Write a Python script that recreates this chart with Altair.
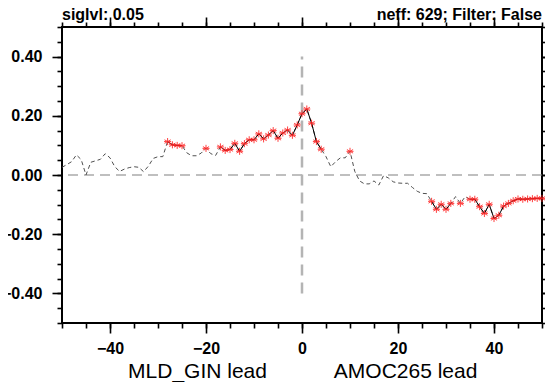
import altair as alt
import pandas as pd

# ---- data ----
lags = list(range(-50, 51))
corr_neg = [  # lags -50 .. -1
    0.026, 0.035, 0.045, 0.068, 0.052, 0.000, 0.043, 0.048, 0.053, 0.072,
    0.058, 0.028, 0.012, 0.020, 0.025, 0.028, 0.026, 0.011, 0.030, 0.056,
    0.062, 0.062, 0.113, 0.102, 0.100, 0.099, 0.075, 0.065, 0.065, 0.074,
    0.090, 0.072, 0.066, 0.095, 0.083, 0.086, 0.107, 0.080, 0.106, 0.119,
    0.119, 0.139, 0.122, 0.135, 0.150, 0.124, 0.142, 0.152, 0.134, 0.169,
]
corr_pos = [  # lags 0 .. 50
    0.207, 0.223, 0.175, 0.113, 0.087, 0.062, 0.028, 0.045, 0.058, 0.058,
    0.080, 0.012, -0.020, -0.030, -0.030, -0.020, -0.034, -0.002, -0.010, -0.023,
    -0.027, -0.028, -0.028, -0.042, -0.055, -0.062, -0.063, -0.089, -0.116, -0.099,
    -0.116, -0.096, -0.073, -0.096, -0.073, -0.082, -0.082, -0.107, -0.130, -0.099,
    -0.147, -0.136, -0.105, -0.096, -0.087, -0.081, -0.082, -0.081, -0.080, -0.079,
    -0.079,
]
corr = corr_neg + corr_pos
r_crit = 0.078  # significance threshold (siglvl 0.05, neff 629)

left_title = "siglvl: 0.05"
right_title = "neff: 629; Filter: False"
x_label_left = "MLD_GIN lead"
x_label_right = "AMOC265 lead"

x_major = [-40, -20, 0, 20, 40]
x_minor = [-50, -45, -40, -35, -30, -25, -20, -15, -10, -5, 0, 5, 10, 15, 20, 25, 30, 35, 40, 45, 50]
y_major = [-0.4, -0.2, 0.0, 0.2, 0.4]
y_minor = [-0.5, -0.45, -0.4, -0.35, -0.3, -0.25, -0.2, -0.15, -0.1, -0.05, 0.0,
           0.05, 0.1, 0.15, 0.2, 0.25, 0.3, 0.35, 0.4, 0.45, 0.5]

FONT = "Liberation Sans"

df = pd.DataFrame({"lag": lags, "corr": corr})
df["sig"] = df["corr"].abs() >= r_crit
df["run"] = (df["sig"] != df["sig"].shift()).cumsum()

xs = alt.Scale(domain=[-50, 50], nice=False, zero=False)
ys = alt.Scale(domain=[-0.5, 0.5], nice=False, zero=False)


def axis_layer(xaxis, yaxis):
    return alt.Chart(df).mark_point(opacity=0).encode(
        x=alt.X("lag:Q", scale=xs, axis=xaxis),
        y=alt.Y("corr:Q", scale=ys, axis=yaxis),
    )


common = dict(grid=False, domain=False, title=None, tickColor="black", tickWidth=1.6)
lab = dict(labelFont=FONT, labelFontSize=16, labelFontWeight="bold", labelColor="black")

ax1 = axis_layer(
    alt.Axis(orient="bottom", values=x_major, tickSize=10, labelPadding=20,
             labelBaseline="alphabetic", format="d", **lab, **common),
    alt.Axis(orient="left", values=y_major, tickSize=10, labelPadding=10, format=".2f", **lab, **common),
)
ax2 = axis_layer(
    alt.Axis(orient="bottom", values=x_minor, tickSize=5, labels=False, **common),
    alt.Axis(orient="left", values=y_minor, tickSize=5, labels=False, **common),
)
ax3 = axis_layer(
    alt.Axis(orient="top", values=x_major, tickSize=10, labels=False, **common),
    alt.Axis(orient="right", values=y_major, tickSize=10, labels=False, **common),
)
ax4 = axis_layer(
    alt.Axis(orient="top", values=x_minor, tickSize=5, labels=False, **common),
    alt.Axis(orient="right", values=y_minor, tickSize=5, labels=False, **common),
)

zero = alt.Chart(pd.DataFrame({"y": [0.0]})).mark_rule(
    color="#808080", strokeDash=[10, 6], strokeWidth=1.2
).encode(y=alt.Y("y:Q", scale=ys, axis=None))

vline = alt.Chart(pd.DataFrame({"x": [0], "y": [-0.4], "y2": [0.4]})).mark_rule(
    color="#b4b4b4", strokeDash=[11, 7], strokeWidth=2.5
).encode(
    x=alt.X("x:Q", scale=xs, axis=None),
    y=alt.Y("y:Q", scale=ys, axis=None),
    y2="y2:Q",
)

dashed = alt.Chart(df).mark_line(color="#505050", strokeDash=[4, 3], strokeWidth=1).encode(
    x=alt.X("lag:Q", scale=xs, axis=None),
    y=alt.Y("corr:Q", scale=ys, axis=None),
)

solid = alt.Chart(df).transform_filter("datum.sig").mark_line(color="black", strokeWidth=1).encode(
    x=alt.X("lag:Q", scale=xs, axis=None),
    y=alt.Y("corr:Q", scale=ys, axis=None),
    detail="run:N",
)

asterisk = "M0,-1L0,1M-0.87,-0.5L0.87,0.5M-0.87,0.5L0.87,-0.5M-1,0L1,0"
stars = alt.Chart(df).transform_filter("datum.sig").mark_point(
    shape=asterisk, color="#ff2020", filled=False, size=50, strokeWidth=1, opacity=0.85
).encode(
    x=alt.X("lag:Q", scale=xs, axis=None),
    y=alt.Y("corr:Q", scale=ys, axis=None),
)


def text_layer(txt, x, y, align, size, weight):
    return alt.Chart(pd.DataFrame({"t": [txt]})).mark_text(
        align=align, baseline="alphabetic", font=FONT, fontSize=size, fontWeight=weight, color="black"
    ).encode(text="t:N", x=alt.value(x), y=alt.value(y))


t1 = text_layer(left_title, 0, -7, "left", 16, "bold")
t2 = text_layer(right_title, 480, -7, "right", 16, "bold")
t3 = text_layer(x_label_left, 135.5, 351, "center", 21, "normal")
t4 = text_layer(x_label_right, 343.6, 351, "center", 21, "normal")

chart = alt.layer(
    ax1, ax2, ax3, ax4, zero, vline, dashed, solid, stars, t1, t2, t3, t4
).resolve_axis(x="independent", y="independent").properties(
    width=480, height=296, autosize="none",
    padding={"left": 54, "top": 19, "right": 3, "bottom": 59},
).configure_view(stroke="black", strokeWidth=2)

chart.save("out.html", embed_options={"renderer": "svg", "actions": False})
